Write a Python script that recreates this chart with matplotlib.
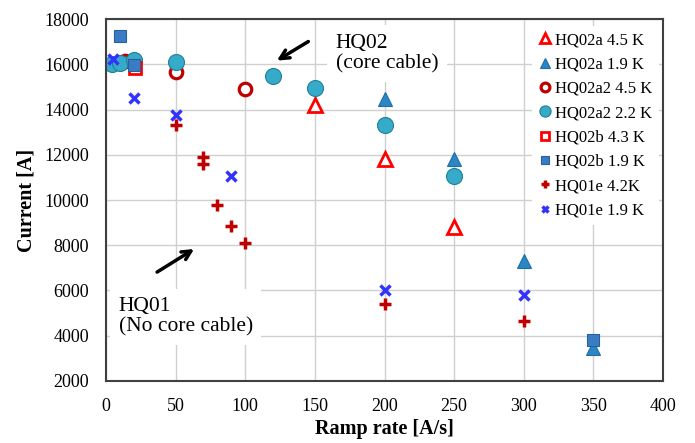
import matplotlib
matplotlib.use("Agg")
import matplotlib.pyplot as plt

plt.rcParams['font.family'] = ['Liberation Serif', 'DejaVu Serif']

# data (ramp rate [A/s], current [A])
hq02a_45_x = [150, 200, 250]
hq02a_45_y = [14200, 11800, 8800]

hq02a_19_x = [200, 250, 300, 350]
hq02a_19_y = [14450, 11800, 7300, 3450]

hq02a2_45_x = [14, 50, 100]
hq02a2_45_y = [16150, 15650, 14900]

hq02a2_22_x = [4, 10, 20, 50, 120, 150, 200, 250]
hq02a2_22_y = [16000, 16050, 16200, 16100, 15500, 14950, 13300, 11050]

hq02b_43_x = [21]
hq02b_43_y = [15830]

hq02b_19_x = [10, 20, 350]
hq02b_19_y = [17250, 15950, 3800]

hq01e_42_x = [50, 70, 70, 80, 90, 100, 200, 300]
hq01e_42_y = [13300, 11900, 11600, 9800, 8850, 8100, 5400, 4650]

hq01e_19_x = [5, 20, 50, 90, 200, 300]
hq01e_19_y = [16250, 14500, 13750, 11050, 6000, 5800]

fig = plt.figure(figsize=(6.95, 4.43), dpi=100)
ax = fig.add_axes([0.1525, 0.14, 0.8015, 0.817])

ax.plot(hq02a_45_x, hq02a_45_y, ls='none', marker='^', ms=9.5, mfc='white',
        mec='#ff0000', mew=2, label='HQ02a 4.5 K')
ax.plot(hq02a_19_x, hq02a_19_y, ls='none', marker='^', ms=10, mfc='#2b86c4',
        mec='#1f6ea6', mew=0.8, label='HQ02a 1.9 K')
ax.plot(hq02a2_45_x, hq02a2_45_y, ls='none', marker='o', ms=9, mfc='white',
        mec='#c00000', mew=2.3, label='HQ02a2 4.5 K')
ax.plot(hq02a2_22_x, hq02a2_22_y, ls='none', marker='o', ms=11.5, mfc='#35abc9',
        mec='#1f7f9c', mew=0.8, label='HQ02a2 2.2 K')
ax.plot(hq02b_43_x, hq02b_43_y, ls='none', marker='s', ms=9, mfc='none',
        mec='#ff0000', mew=2, label='HQ02b 4.3 K')
ax.plot(hq02b_19_x, hq02b_19_y, ls='none', marker='s', ms=9, mfc='#3a7cc4',
        mec='#2a5f9e', mew=0.8, label='HQ02b 1.9 K')
ax.plot(hq01e_42_x, hq01e_42_y, ls='none', marker='+', ms=8, mec='#c00000',
        mew=2.5, label='HQ01e 4.2K')
ax.plot(hq01e_19_x, hq01e_19_y, ls='none', marker='x', ms=7, mec='#3333ff',
        mew=2.5, label='HQ01e 1.9 K')

ax.set_xlim(0, 400)
ax.set_ylim(2000, 18000)
ax.set_xticks(range(0, 401, 50))
ax.set_yticks(range(2000, 18001, 2000))
ax.grid(True, color='#d0d0d0', lw=1)
ax.set_axisbelow(True)
ax.tick_params(length=0, labelsize=13)
ax.tick_params(axis='y', pad=12)
ax.tick_params(axis='x', pad=12)
for s in ax.spines.values():
    s.set_color('#404040')
    s.set_linewidth(1.5)

ax.set_xlabel('Ramp rate [A/s]', fontsize=14.5, fontweight='bold', labelpad=3)
ax.set_ylabel('Current [A]', fontsize=14.5, fontweight='bold', labelpad=6)

leg = ax.legend(loc='upper right', bbox_to_anchor=(1.008, 1.005), fontsize=12,
                frameon=True, fancybox=False, edgecolor='none', framealpha=1,
                handlelength=0.8, handletextpad=0.2, labelspacing=0.5,
                markerscale=0.7, borderpad=0.4)

# annotations
ax.text(165, 17350, 'HQ02\n(core cable)', fontsize=15.5, va='top', ha='left',
        linespacing=1.1,
        bbox=dict(facecolor='white', edgecolor='none', pad=6))
ax.annotate('', xy=(121, 16100), xytext=(147, 17070),
            arrowprops=dict(arrowstyle='->', lw=2.5, color='black',
                            mutation_scale=16))

ax.text(9, 5700, 'HQ01\n(No core cable)', fontsize=15.5, va='top', ha='left',
        linespacing=1.1,
        bbox=dict(facecolor='white', edgecolor='none', pad=6))
ax.annotate('', xy=(65, 7900), xytext=(35, 6750),
            arrowprops=dict(arrowstyle='->', lw=2.5, color='black',
                            mutation_scale=16))

fig.savefig('out.png', dpi=100)
